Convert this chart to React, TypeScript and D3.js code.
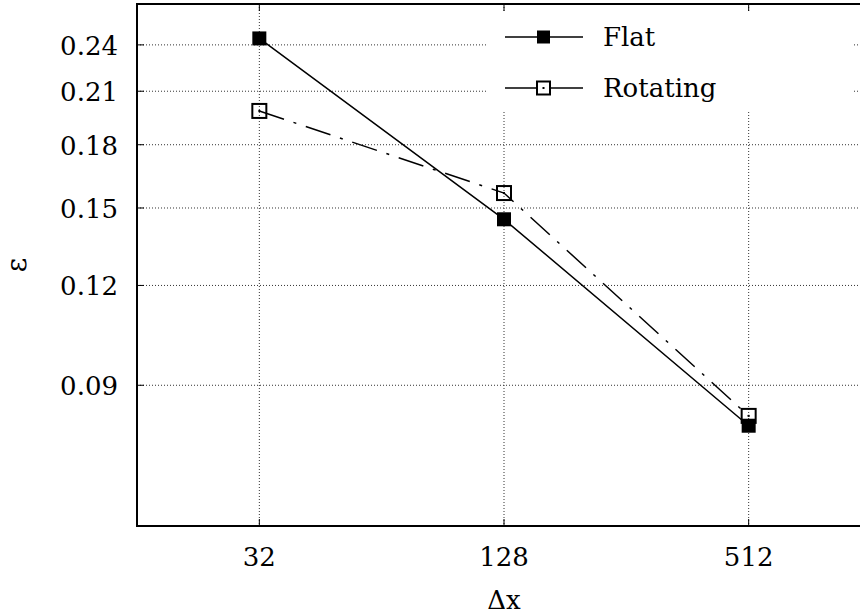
import React, { useEffect, useRef } from "react";
import * as d3 from "d3";

// grid resolution (Δx) and error ε for each run
const resolutions = [32, 128, 512];
const flatError = [0.2445, 0.1452, 0.0801];
const rotatingError = [0.1984, 0.1566, 0.0824];
const yTicks = [0.09, 0.12, 0.15, 0.18, 0.21, 0.24];
const seriesNames = ["Flat", "Rotating"];

const W = 860;
const H = 615;
const FONT = "'DejaVu Serif', 'Liberation Serif', serif";

export default function App() {
  const ref = useRef<SVGSVGElement>(null);

  useEffect(() => {
    const svg = d3.select(ref.current);
    svg.selectAll("*").remove();

    const left = 137, right = 871, top = 4, bottom = 526;
    const x = d3.scaleLog().base(2).domain([16, 1024]).range([left, right]);
    const y = d3.scaleLog().domain([0.06, 0.27]).range([bottom, top]);

    const g = svg.append("g");

    // grid
    g.selectAll("line.gy")
      .data(yTicks)
      .enter()
      .append("line")
      .attr("x1", left).attr("x2", right)
      .attr("y1", d => y(d)).attr("y2", d => y(d))
      .attr("stroke", "#333").attr("stroke-width", 1)
      .attr("stroke-dasharray", "1,2");
    g.selectAll("line.gx")
      .data(resolutions)
      .enter()
      .append("line")
      .attr("x1", d => x(d)).attr("x2", d => x(d))
      .attr("y1", top).attr("y2", bottom)
      .attr("stroke", "#333").attr("stroke-width", 1)
      .attr("stroke-dasharray", "1,2");

    // legend background hides grid
    g.append("rect")
      .attr("x", 487).attr("y", 12).attr("width", 365).attr("height", 100)
      .attr("fill", "white");

    // ticks (inward, mirrored)
    yTicks.forEach(t => {
      g.append("line").attr("x1", left).attr("x2", left + 7)
        .attr("y1", y(t)).attr("y2", y(t)).attr("stroke", "black").attr("stroke-width", 1);
      g.append("line").attr("x1", right).attr("x2", right - 7)
        .attr("y1", y(t)).attr("y2", y(t)).attr("stroke", "black").attr("stroke-width", 1);
    });
    resolutions.forEach(t => {
      g.append("line").attr("x1", x(t)).attr("x2", x(t))
        .attr("y1", bottom).attr("y2", bottom - 7).attr("stroke", "black").attr("stroke-width", 1);
      g.append("line").attr("x1", x(t)).attr("x2", x(t))
        .attr("y1", top).attr("y2", top + 7).attr("stroke", "black").attr("stroke-width", 1);
    });

    // frame
    g.append("rect")
      .attr("x", left).attr("y", top)
      .attr("width", right - left).attr("height", bottom - top)
      .attr("fill", "none").attr("stroke", "black").attr("stroke-width", 2);

    // tick labels
    g.selectAll("text.yt")
      .data(yTicks)
      .enter()
      .append("text")
      .attr("x", 118).attr("y", d => y(d) + 10)
      .attr("text-anchor", "end")
      .attr("font-family", FONT).attr("font-size", 26)
      .text(d => d3.format(".2f")(d));
    g.selectAll("text.xt")
      .data(resolutions)
      .enter()
      .append("text")
      .attr("x", d => x(d)).attr("y", 566)
      .attr("text-anchor", "middle")
      .attr("font-family", FONT).attr("font-size", 26)
      .text(d => String(d));

    // axis titles
    g.append("text")
      .attr("x", x(128)).attr("y", 609)
      .attr("text-anchor", "middle")
      .attr("font-family", FONT).attr("font-size", 26)
      .text("Δx");
    g.append("text")
      .attr("transform", `translate(26,${(top + bottom) / 2}) rotate(-90)`)
      .attr("text-anchor", "middle")
      .attr("font-family", FONT).attr("font-size", 28)
      .text("ε");

    const line = d3.line<number>()
      .x((_, i) => x(resolutions[i]))
      .y(d => y(d));

    // Flat series
    g.append("path")
      .attr("d", line(flatError))
      .attr("fill", "none").attr("stroke", "black").attr("stroke-width", 1.5);
    g.selectAll("rect.flat")
      .data(flatError)
      .enter()
      .append("rect")
      .attr("x", (_, i) => x(resolutions[i]) - 7)
      .attr("y", d => y(d) - 7)
      .attr("width", 14).attr("height", 14)
      .attr("fill", "black");

    // Rotating series
    g.append("path")
      .attr("d", line(rotatingError))
      .attr("fill", "none").attr("stroke", "black").attr("stroke-width", 1.5)
      .attr("stroke-dasharray", "26,10,3,10");
    rotatingError.forEach((d, i) => {
      const cx = x(resolutions[i]);
      const cy = y(d);
      g.append("rect")
        .attr("x", cx - 7).attr("y", cy - 7).attr("width", 14).attr("height", 14)
        .attr("fill", "none").attr("stroke", "black").attr("stroke-width", 2);
      g.append("rect")
        .attr("x", cx - 1).attr("y", cy - 1).attr("width", 2).attr("height", 2)
        .attr("fill", "black");
    });

    // legend
    const legendY = [37, 88];
    seriesNames.forEach((name, i) => {
      const ly = legendY[i];
      g.append("line").attr("x1", 505).attr("x2", 583).attr("y1", ly).attr("y2", ly)
        .attr("stroke", "black").attr("stroke-width", 1.5);
      if (i === 0) {
        g.append("rect").attr("x", 537).attr("y", ly - 6.5).attr("width", 13).attr("height", 13)
          .attr("fill", "black");
      } else {
        g.append("rect").attr("x", 537).attr("y", ly - 6.5).attr("width", 13).attr("height", 13)
          .attr("fill", "white").attr("stroke", "black").attr("stroke-width", 2);
        g.append("rect").attr("x", 542.5).attr("y", ly - 1).attr("width", 2).attr("height", 2)
          .attr("fill", "black");
      }
      g.append("text")
        .attr("x", 603).attr("y", ly + 9)
        .attr("font-family", FONT).attr("font-size", 26)
        .text(name);
    });
  }, []);

  return (
    <svg
      ref={ref}
      width={W}
      height={H}
      style={{ position: "absolute", left: 0, top: 0, background: "white" }}
    />
  );
}
